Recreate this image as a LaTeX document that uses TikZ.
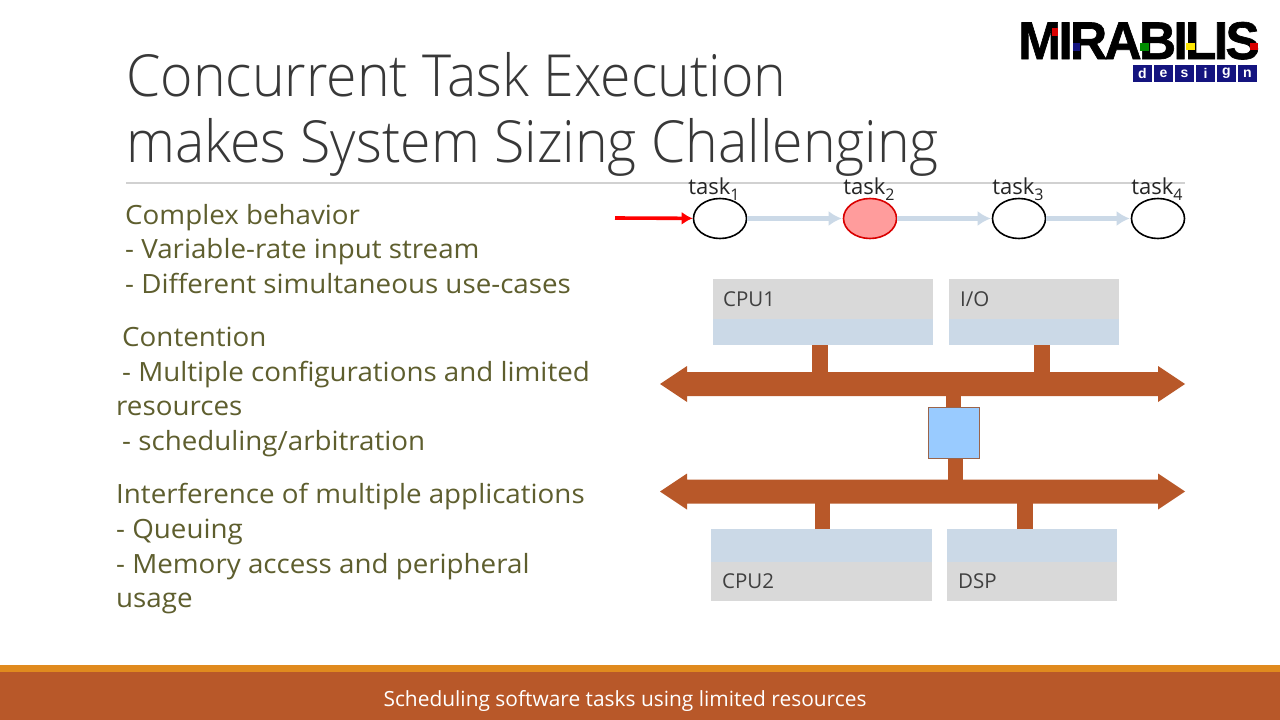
\documentclass[tikz,border=0pt]{standalone}
\usepackage{fontspec}
\setmainfont{Open Sans}
\newfontfamily\titlefont[FakeStretch=0.955]{Open Sans Light}
\newfontfamily\bodyfont[FakeStretch=1.047]{Open Sans}
\newfontfamily\logofont[LetterSpace=-5,FakeStretch=0.97,FakeBold=1.2]{Liberation Sans Bold}
\newfontfamily\logosmall{Liberation Sans Bold}
\usetikzlibrary{calc,arrows.meta,shapes.geometric}
\definecolor{rust}{HTML}{B85829}
\definecolor{amber}{HTML}{E08A1E}
\definecolor{olive}{HTML}{5E5E2E}
\definecolor{boxgray}{HTML}{D9D9D9}
\definecolor{boxblue}{HTML}{CBD9E7}
\definecolor{navy}{HTML}{14147F}
\definecolor{pink}{HTML}{FF9C9C}
\definecolor{sky}{HTML}{99CBFF}
\newcommand{\tsub}[1]{\raisebox{-6pt}{\fontsize{16}{16}\selectfont #1}}
\tikzset{
  x=1pt,y=-1pt,
  titletext/.style={anchor=base west,inner sep=0,font=\titlefont\fontsize{58}{58}\selectfont,text=black!78},
  bodytext/.style={anchor=base west,inner sep=0,font=\bodyfont\fontsize{26.5}{26.5}\selectfont,text=olive},
  tasknode/.style={draw=black,line width=1.6pt,ellipse,minimum width=53,minimum height=40,inner sep=0,fill=white},
  tasklabel/.style={anchor=base,inner sep=0,font=\fontsize{22}{22}\selectfont,text=black!85},
  flow/.style={draw=boxblue,line width=5,-{Latex[length=13,width=15]},shorten >=1},
  inflow/.style={draw=red,line width=3.6,-{Latex[length=11,width=13]}},
  stub/.style={draw=rust,line width=15.5},
  boxlabel/.style={anchor=base west,inner sep=0,font=\fontsize{20.5}{20.5}\selectfont,text=black!75},
  logosq/.style={fill=navy,minimum width=19,minimum height=17,inner sep=0,text=white,font=\logosmall\fontsize{14}{14}\selectfont},
}
\newcommand{\busshape}[1]{%
  \fill[rust] (660,#1) -- (687,#1-18) -- (687,#1-12) -- (1158,#1-12) -- (1158,#1-18) -- (1185,#1) -- (1158,#1+18) -- (1158,#1+12) -- (687,#1+12) -- (687,#1+18) -- cycle;}
\begin{document}
\begin{tikzpicture}
\useasboundingbox (0,0) rectangle (1280,720);
\fill[white] (0,0) rectangle (1280,720);
% footer
\fill[amber] (0,665) rectangle (1280,672);
\fill[rust] (0,672) rectangle (1280,720);
\node[anchor=base,inner sep=0,text=white,font=\fontsize{20.9}{20.9}\selectfont] (foot) at (625,706) {Scheduling software tasks using limited resources};
% title
\draw[black!18,line width=1.5] (126,183) -- (1185,183);
\node[titletext] (t1) at (126,96) {Concurrent Task Execution};
\node[titletext] (t2) at (126,162) {makes System Sizing Challenging};
% body
\node[bodytext] (b1) at (125,224) {Complex behavior};
\node[bodytext] (b2) at (125,258) {- Variable-rate input stream};
\node[bodytext] (b3) at (125,293) {- Different simultaneous use-cases};
\node[bodytext] (b4) at (122,346) {Contention};
\node[bodytext] (b5) at (122,381) {- Multiple configurations and limited};
\node[bodytext] (b6) at (116,415) {resources};
\node[bodytext] (b7) at (122,450) {- scheduling/arbitration};
\node[bodytext] (b8) at (116,503) {Interference of multiple applications};
\node[bodytext] (b9) at (116,538) {- Queuing};
\node[bodytext] (b10) at (116,573) {- Memory access and peripheral};
\node[bodytext] (b11) at (116,607) {usage};
% tasks
\coordinate (in) at (615,218);
\node[tasknode] (k1) at (720,218.5) {};
\node[tasknode,draw=red!85!black,fill=pink] (k2) at (870,218.5) {};
\node[tasknode] (k3) at (1019,218.5) {};
\node[tasknode] (k4) at (1158,218.5) {};
\draw[inflow] (in) -- (k1);
\draw[flow] (k1) -- (k2);
\draw[flow] (k2) -- (k3);
\draw[flow] (k3) -- (k4);
\node[tasklabel] (l1) at (714,194) {task\tsub{1}};
\node[tasklabel] (l2) at (869,194) {task\tsub{2}};
\node[tasklabel] (l3) at (1018,194) {task\tsub{3}};
\node[tasklabel] (l4) at (1157,194) {task\tsub{4}};
% boxes
\fill[boxgray] (713,279) rectangle (933,319);
\fill[boxblue] (713,319) rectangle (933,345);
\fill[boxgray] (949,279) rectangle (1119,319);
\fill[boxblue] (949,319) rectangle (1119,345);
\fill[boxblue] (711,529) rectangle (932,562);
\fill[boxgray] (711,562) rectangle (932,601);
\fill[boxblue] (947,529) rectangle (1117,562);
\fill[boxgray] (947,562) rectangle (1117,601);
\node[boxlabel] (n1) at (723,306) {CPU1};
\node[boxlabel] (n2) at (960,306) {I/O};
\node[boxlabel] (n3) at (722,588) {CPU2};
\node[boxlabel] (n4) at (958,588) {DSP};
% stubs and buses
\coordinate (s1) at (820,345); \coordinate (s2) at (1042,345);
\coordinate (s3) at (953.5,384); \coordinate (s4) at (955.5,491.5);
\coordinate (s5) at (822.5,529); \coordinate (s6) at (1025,529);
\coordinate (m1) at (953.5,410); \coordinate (m2) at (955.5,455);
\coordinate (b1y) at (820,384); \coordinate (b2y) at (1042,384);
\coordinate (b5y) at (822.5,491.5); \coordinate (b6y) at (1025,491.5);
\draw[stub] (s1) -- (b1y);
\draw[stub] (s2) -- (b2y);
\draw[stub] (s3) -- (m1);
\draw[stub] (s4) -- (m2);
\draw[stub] (s5) -- (b5y);
\draw[stub] (s6) -- (b6y);
\busshape{384}
\busshape{491.5}
\node[draw=rust!70!black!80,line width=1,fill=sky,minimum width=51,minimum height=51,inner sep=0] (sw) at (953.5,432.5) {};
% logo
\node[anchor=base west,inner sep=0,font=\logofont\fontsize{53}{53}\selectfont,text=black] (logo) at (1018,59) {MIRABILIS};
\fill[red!85!black] (1052,28) rectangle (1058,36);
\fill[navy] (1073,43) rectangle (1080,51);
\fill[green!55!black] (1140,43) rectangle (1149,51);
\fill[yellow!90!orange] (1186,43) rectangle (1195,50);
\fill[red!85!black] (1250,43) rectangle (1258,50);
\node[logosq] (d1) at (1142.5,73.5) {d};
\node[logosq] (d2) at (1163.5,73.5) {e};
\node[logosq] (d3) at (1184.5,73.5) {s};
\node[logosq] (d4) at (1205.5,73.5) {i};
\node[logosq] (d5) at (1226.5,73.5) {g};
\node[logosq] (d6) at (1247.5,73.5) {n};
\end{tikzpicture}
\end{document}
